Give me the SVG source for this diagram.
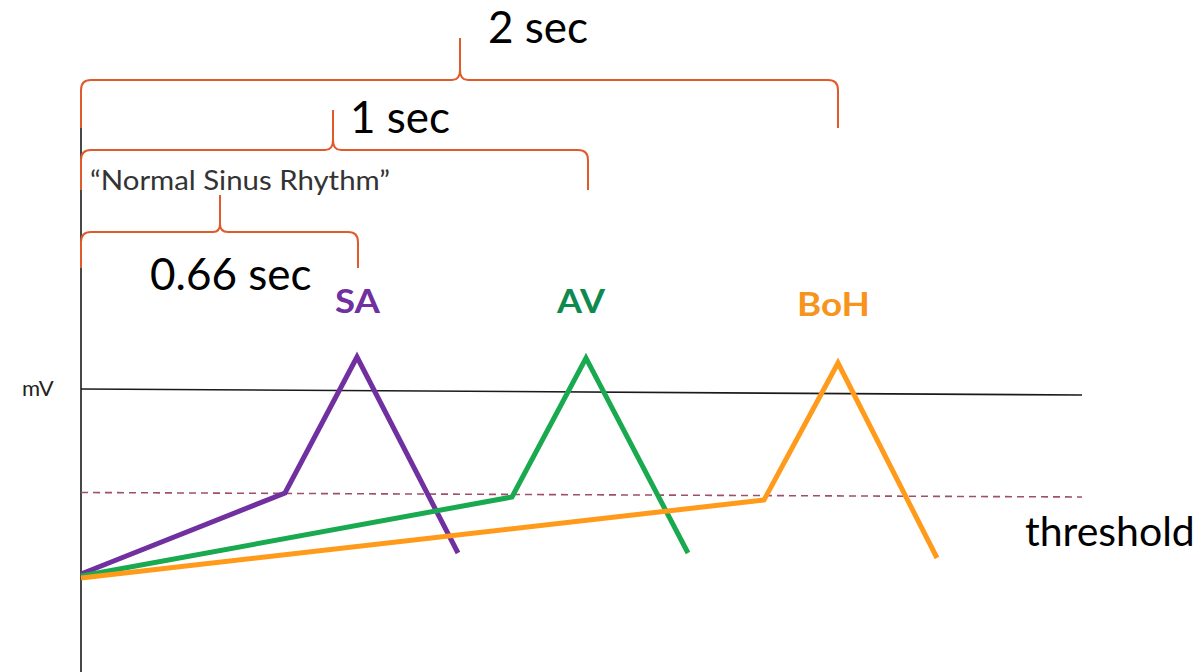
<svg xmlns="http://www.w3.org/2000/svg" width="1203" height="672" viewBox="0 0 1203 672">
<style>
.br{fill:none;stroke:#E05A2B;stroke-width:2}
.ax{fill:none;stroke:#1a1a1a;stroke-width:1.6}
.lbl{font-family:Lato,"Open Sans",sans-serif;fill:#000}
.big{font-size:44px}
.nm{font-weight:bold;font-size:33px}
.wave{fill:none;stroke-width:5;stroke-linejoin:miter}
</style>
<rect width="1203" height="672" fill="#fff"/>
<g id="axes">
<line class="ax" x1="81" y1="128" x2="81" y2="672"/>
<line class="ax" x1="81" y1="389" x2="1082" y2="395"/>
<line x1="81" y1="492.5" x2="1082" y2="497" stroke="#9E4F6E" stroke-width="1.6" stroke-dasharray="7,5"/>
</g>
<g id="brackets">
<path class="br" d="M81,128 L81,90 Q81,80 91,80 L452,80 Q460,80 460,70 L460,38 M460,70 Q460,80 468,80 L828,80 Q838,80 838,90 L838,128"/>
<path class="br" d="M81,190 L81,160 Q81,150 91,150 L325,150 Q333,150 333,140 L333,110 M333,140 Q333,150 341,150 L578,150 Q588,150 588,160 L588,190"/>
<path class="br" d="M81,268 L81,242 Q81,232 91,232 L213,232 Q220,232 220,224 L220,195 M220,224 Q220,232 228,232 L348,232 Q358,232 358,242 L358,268"/>
</g>
<g id="labels">
<text class="lbl big" x="488" y="43">2 sec</text>
<text class="lbl big" x="350" y="133">1 sec</text>
<text class="lbl big" x="150" y="290">0.66 sec</text>
<text class="lbl" x="90" y="190" font-size="27" style="fill:#333" textLength="300" lengthAdjust="spacingAndGlyphs">“Normal Sinus  Rhythm”</text>
<text class="lbl" x="22" y="396" font-size="22" style="fill:#222">mV</text>
<text class="lbl" x="1025" y="546" font-size="41">threshold</text>
</g>
<g id="SA">
<text class="lbl nm" x="335" y="313" style="fill:#7030A0" textLength="45" lengthAdjust="spacingAndGlyphs">SA</text>
<polyline class="wave" stroke="#7030A0" points="81,574 285,493 357,357 458,553"/>
</g>
<g id="AV">
<text class="lbl nm" x="557" y="313" style="fill:#0E8A4E" textLength="48" lengthAdjust="spacingAndGlyphs">AV</text>
<polyline class="wave" stroke="#19A94F" points="81,576 512,497 586,358 688,553"/>
</g>
<g id="BoH">
<text class="lbl nm" x="797" y="316" style="fill:#F7941D" textLength="73" lengthAdjust="spacingAndGlyphs">BoH</text>
<polyline class="wave" stroke="#FF9A1A" points="81,578 764,500 838,363 937,558"/>
</g>
</svg>
